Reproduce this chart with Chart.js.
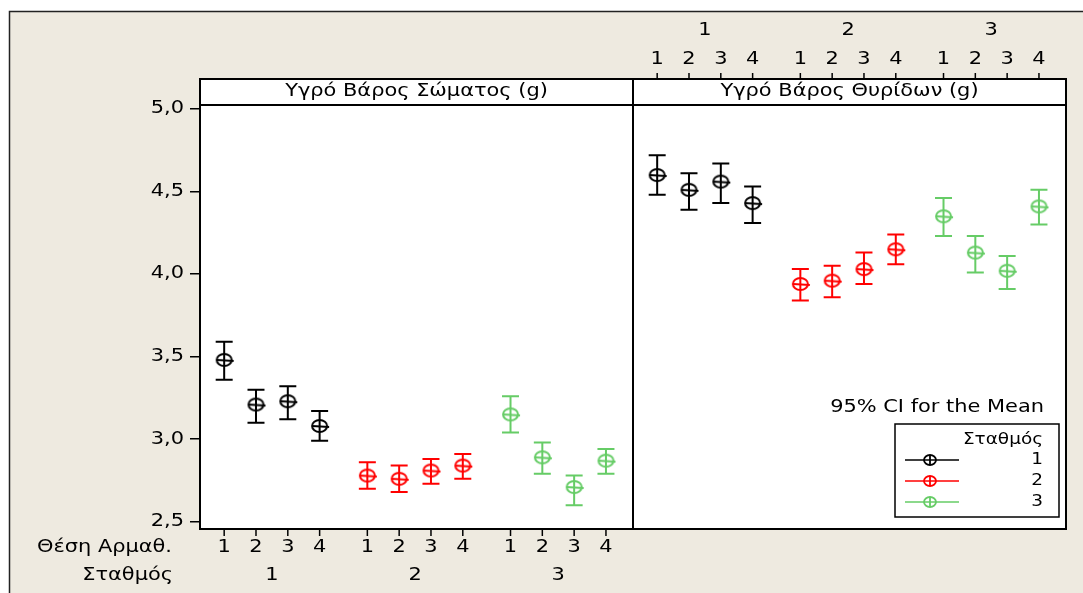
<!DOCTYPE html>
<html>
<head>
<meta charset="utf-8">
<script src="https://cdn.jsdelivr.net/npm/chart.js@4.4.1/dist/chart.umd.min.js"></script>
<style>
  html, body { margin: 0; padding: 0; background: #fff; }
  #c { display: block; }
</style>
</head>
<body>
<canvas id="c" width="1083" height="593"></canvas>
<script>
// ---- data ----
const stations = ['1', '2', '3'];
const positions = ['1', '2', '3', '4'];
const panelTitles = ['Υγρό Βάρος Σώματος (g)', 'Υγρό Βάρος Θυρίδων (g)'];
const yTicks = [2.5, 3.0, 3.5, 4.0, 4.5, 5.0];

// body weight: mean and 95% CI, one row per station, 4 positions
const bodyMean = [[3.48, 3.21, 3.23, 3.08], [2.78, 2.76, 2.81, 2.84], [3.15, 2.89, 2.71, 2.87]];
const bodyLow  = [[3.36, 3.10, 3.12, 2.99], [2.70, 2.68, 2.73, 2.76], [3.04, 2.79, 2.60, 2.79]];
const bodyHigh = [[3.59, 3.30, 3.32, 3.17], [2.86, 2.84, 2.88, 2.91], [3.26, 2.98, 2.78, 2.94]];

// gill weight
const gillMean = [[4.60, 4.51, 4.56, 4.43], [3.94, 3.96, 4.03, 4.15], [4.35, 4.13, 4.02, 4.41]];
const gillLow  = [[4.48, 4.39, 4.43, 4.31], [3.84, 3.86, 3.94, 4.06], [4.23, 4.01, 3.91, 4.30]];
const gillHigh = [[4.72, 4.61, 4.67, 4.53], [4.03, 4.05, 4.13, 4.24], [4.46, 4.23, 4.11, 4.51]];

const colors = ['#000000', '#ff0000', '#66cc66'];

// ---- layout ----
const GROUP_STEP = 4.5;          // distance between first points of station groups
const PAD_L = 0.76, PAD_R = 0.85;
const PANEL_W = 3 * 3 + 2 * 1.5 + PAD_L + PAD_R;
const FONT = '"DejaVu Sans", Verdana, sans-serif';
const SX = 1.23;                 // the original text is stretched horizontally

const xPos = (panel, s, p) => panel * PANEL_W + s * GROUP_STEP + p;

function makeMarker(color, rx, ry, lw) {
  const c = document.createElement('canvas');
  c.width = Math.ceil(2 * rx + 8);
  c.height = Math.ceil(2 * ry + 6);
  const g = c.getContext('2d');
  const cx = c.width / 2, cy = c.height / 2;
  g.strokeStyle = color;
  g.lineWidth = lw;
  g.beginPath();
  g.ellipse(cx, cy, rx, ry, 0, 0, 2 * Math.PI);
  g.stroke();
  g.beginPath();
  g.moveTo(cx - rx, cy);
  g.lineTo(cx + rx + 2, cy + 1);
  g.stroke();
  return c;
}

const datasets = stations.map((st, s) => {
  const data = [];
  positions.forEach((p, i) => data.push({ x: xPos(0, s, i), y: bodyMean[s][i], lo: bodyLow[s][i], hi: bodyHigh[s][i] }));
  positions.forEach((p, i) => data.push({ x: xPos(1, s, i), y: gillMean[s][i], lo: gillLow[s][i], hi: gillHigh[s][i] }));
  return {
    label: st,
    data: data,
    pointStyle: makeMarker(colors[s], 7.5, 6, 2),
    pointRadius: 7,
    borderColor: colors[s],
    showLine: false
  };
});

function text(ctx, str, x, y, align, size) {
  ctx.save();
  ctx.font = size + 'px ' + FONT;
  ctx.fillStyle = '#000';
  ctx.textBaseline = 'middle';
  ctx.textAlign = align;
  ctx.translate(x, y);
  ctx.scale(SX, 1);
  ctx.fillText(str, 0, 0);
  ctx.restore();
}

const facetPlugin = {
  id: 'facets',
  beforeDraw(chart) {
    const { ctx, chartArea: a } = chart;
    ctx.save();
    ctx.fillStyle = '#fff';
    ctx.fillRect(0, 0, chart.width, chart.height);
    ctx.fillStyle = '#eeeae0';
    ctx.fillRect(9, 11, chart.width, chart.height);
    ctx.strokeStyle = '#222';
    ctx.lineWidth = 1.5;
    ctx.strokeRect(9.5, 11.5, chart.width + 10, chart.height + 10);
    ctx.fillStyle = '#fff';
    ctx.fillRect(a.left, a.top - 26, a.right - a.left, a.bottom - a.top + 26);
    ctx.restore();
  },
  beforeDatasetsDraw(chart) {
    const { ctx, scales: { y } } = chart;
    ctx.save();
    ctx.lineWidth = 2;
    chart.data.datasets.forEach((ds, i) => {
      const meta = chart.getDatasetMeta(i);
      ctx.strokeStyle = ds.borderColor;
      meta.data.forEach((pt, j) => {
        const d = ds.data[j];
        const yl = y.getPixelForValue(d.lo), yh = y.getPixelForValue(d.hi);
        ctx.beginPath();
        ctx.moveTo(pt.x, yl); ctx.lineTo(pt.x, yh);
        ctx.moveTo(pt.x - 8.5, yl); ctx.lineTo(pt.x + 8.5, yl);
        ctx.moveTo(pt.x - 8.5, yh); ctx.lineTo(pt.x + 8.5, yh);
        ctx.stroke();
      });
    });
    ctx.restore();
  },
  afterDraw(chart) {
    const { ctx, chartArea: a, scales: { x, y } } = chart;
    const mid = x.getPixelForValue(PANEL_W - PAD_L);
    const stripTop = a.top - 26;
    ctx.save();
    ctx.strokeStyle = '#000';
    ctx.lineWidth = 2;
    // panels and strips
    [[a.left, mid], [mid, a.right]].forEach(([l, r], k) => {
      ctx.strokeRect(l, a.top, r - l, a.bottom - a.top);
      ctx.strokeRect(l, stripTop, r - l, 26);
      text(ctx, panelTitles[k], (l + r) / 2, stripTop + 13, 'center', 17);
    });

    // y tick labels
    y.ticks.forEach(t => {
      const py = y.getPixelForValue(t.value);
      text(ctx, t.value.toFixed(1).replace('.', ','), a.left - 16, py, 'right', 17);
    });

    // bottom axis (left panel) and top axis (right panel)
    ctx.lineWidth = 1.5;
    stations.forEach((st, s) => {
      positions.forEach((p, i) => {
        const bx = x.getPixelForValue(xPos(0, s, i));
        ctx.beginPath(); ctx.moveTo(bx, a.bottom); ctx.lineTo(bx, a.bottom + 7); ctx.stroke();
        text(ctx, p, bx, a.bottom + 19, 'center', 17);
        const tx = x.getPixelForValue(xPos(1, s, i));
        ctx.beginPath(); ctx.moveTo(tx, stripTop); ctx.lineTo(tx, stripTop - 6); ctx.stroke();
        text(ctx, p, tx, stripTop - 19, 'center', 17);
      });
      const gb = x.getPixelForValue(xPos(0, s, 1.5));
      text(ctx, st, gb, a.bottom + 47, 'center', 17);
      const gt = x.getPixelForValue(xPos(1, s, 1.5));
      text(ctx, st, gt, stripTop - 48, 'center', 17);
    });
    text(ctx, 'Θέση Αρμαθ.', a.left - 28, a.bottom + 19, 'right', 17);
    text(ctx, 'Σταθμός', a.left - 27, a.bottom + 47, 'right', 17);

    // legend
    const bw = 164, bh = 93;
    const bx = a.right - 7 - bw, by = a.bottom - 12 - bh;
    text(ctx, '95% CI for the Mean', bx + bw - 15, by - 16, 'right', 17);
    ctx.fillStyle = '#fff';
    ctx.fillRect(bx, by, bw, bh);
    ctx.lineWidth = 1.5;
    ctx.strokeStyle = '#000';
    ctx.strokeRect(bx, by, bw, bh);
    text(ctx, 'Σταθμός', bx + bw - 16, by + 16, 'right', 15);
    stations.forEach((st, s) => {
      const ly = by + 36 + s * 21;
      ctx.strokeStyle = colors[s];
      ctx.lineWidth = 1.5;
      ctx.beginPath(); ctx.moveTo(bx + 10, ly); ctx.lineTo(bx + 64, ly); ctx.stroke();
      ctx.lineWidth = 1.8;
      ctx.beginPath(); ctx.ellipse(bx + 35, ly, 6, 5, 0, 0, 2 * Math.PI); ctx.stroke();
      ctx.beginPath(); ctx.moveTo(bx + 35, ly - 5); ctx.lineTo(bx + 35, ly + 5); ctx.stroke();
      text(ctx, st, bx + bw - 16, ly, 'right', 15);
    });
    ctx.restore();
  }
};

new Chart(document.getElementById('c'), {
  type: 'scatter',
  data: { datasets: datasets },
  options: {
    responsive: false,
    animation: false,
    devicePixelRatio: 1,
    layout: { padding: { left: 0, top: 105, right: 17, bottom: 64 } },
    plugins: { legend: { display: false }, tooltip: { enabled: false } },
    scales: {
      x: { type: 'linear', display: false, min: -PAD_L, max: 2 * PANEL_W - PAD_L },
      y: {
        min: 2.456, max: 5.024,
        afterBuildTicks: s => { s.ticks = yTicks.map(v => ({ value: v })); },
        afterFit: s => { s.width = 200; },
        ticks: { display: false },
        grid: { drawOnChartArea: false, drawTicks: true, tickLength: 10, color: '#000', lineWidth: 1.5 },
        border: { display: false }
      }
    }
  },
  plugins: [facetPlugin]
});
</script>
</body>
</html>
